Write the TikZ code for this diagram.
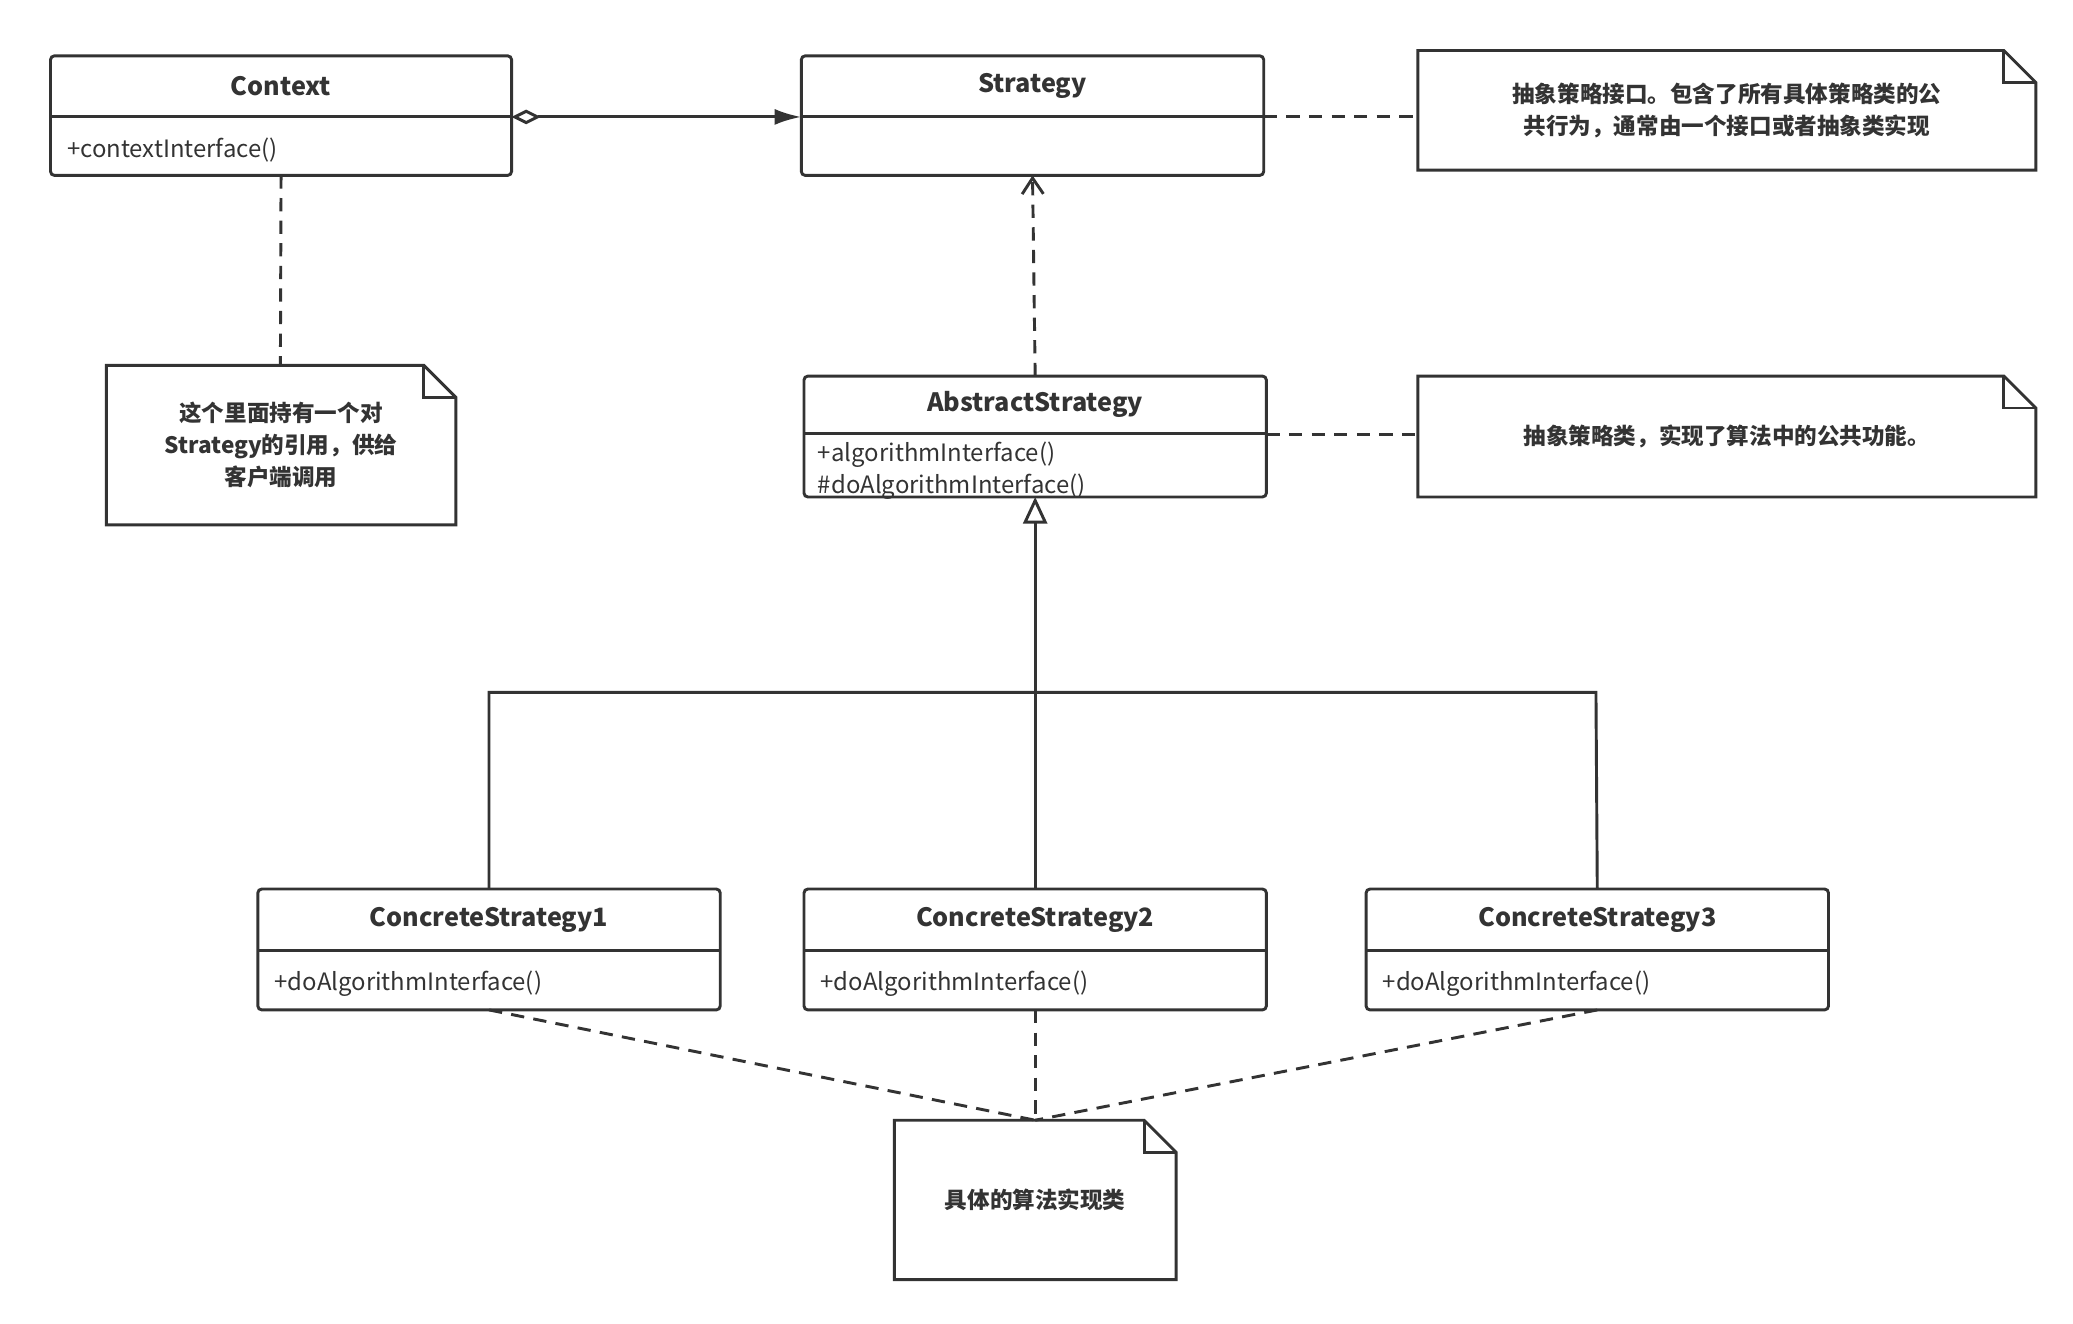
\documentclass[tikz,border=0pt]{standalone}
\usepackage{fontspec}
\setmainfont{Noto Sans CJK SC}
\usetikzlibrary{arrows.meta}
\definecolor{ink}{HTML}{333333}
\begin{document}
\begin{tikzpicture}[x=1pt,y=-1pt,
  ln/.style={draw=ink,line width=2.2pt},
  box/.style={ln,rounded corners=3pt},
  ttl/.style={font=\fontsize{19}{22}\selectfont\bfseries,text=ink},
  mem/.style={font=\fontsize{18}{22}\selectfont,text=ink,anchor=west},
  ntxt/.style={font=\fontsize{17}{24}\selectfont\bfseries,text=ink,align=center},
  dsh/.style={ln,dash pattern=on 10pt off 7pt}]
\useasboundingbox (0,0) rectangle (1560,996);
% class boxes
\newcommand{\umlclass}[7]{% name,x1,y1,x2,y2,ydiv,title
  \draw[box] (#2,#3) rectangle (#4,#5);
  \draw[ln] (#2,#6) -- (#4,#6);
  \node[ttl] (#1) at ({(#2+#4)/2},{(#3+#6)/2}) {#7};
  \coordinate (#1-n) at ({(#2+#4)/2},#3);
  \coordinate (#1-s) at ({(#2+#4)/2},#5);}
\umlclass{ctx}{38}{42}{385}{132}{88}{Context}
\node[mem] (ctxm) at (47,113) {+contextInterface()};
\umlclass{str}{603}{42}{951}{132}{88}{Strategy}
\umlclass{abs}{605}{283}{953}{374}{326}{AbstractStrategy}
\node[mem] (absm1) at (612,342) {+algorithmInterface()};
\node[mem] (absm2) at (612,366) {\#doAlgorithmInterface()};
\umlclass{c1}{194}{669}{542}{760}{715}{ConcreteStrategy1}
\umlclass{c2}{605}{669}{953}{760}{715}{ConcreteStrategy2}
\umlclass{c3}{1028}{669}{1376}{760}{715}{ConcreteStrategy3}
\node[mem] (c1m) at (203,740) {+doAlgorithmInterface()};
\node[mem] (c2m) at (614,740) {+doAlgorithmInterface()};
\node[mem] (c3m) at (1037,740) {+doAlgorithmInterface()};
% notes
\newcommand{\note}[6]{% name x1 y1 x2 y2 text
  \draw[ln] (#2,#3) -- ({#4-24},#3) -- (#4,{#3+24}) -- (#4,#5) -- (#2,#5) -- cycle;
  \draw[ln] ({#4-24},#3) -- ({#4-24},{#3+24}) -- (#4,{#3+24});
  \node[ntxt] (#1) at ({(#2+#4)/2},{(#3+#5)/2}) {#6};}
\note{n1}{1067}{38}{1532}{128}{抽象策略接口。包含了所有具体策略类的公\\共行为，通常由一个接口或者抽象类实现}
\note{n2}{1067}{283}{1532}{374}{抽象策略类，实现了算法中的公共功能。}
\note{n3}{80}{275}{343}{395}{这个里面持有一个对\\Strategy的引用，供给\\客户端调用}
\note{n4}{673}{843}{885}{963}{具体的算法实现类}
% connectors
\draw[ln,{Diamond[open,length=22pt,width=11pt]}-{Latex[length=20pt,width=12pt]}] (385,88) -- (603,88);
\draw[dsh] (951,88) -- (1067,88);
\draw[dsh] (953,327) -- (1067,327);
\draw[dsh] (ctx-s) -- (211,275);
\draw[dsh,-{Straight Barb[length=12pt,width=16pt]}] (abs-n) -- (str-s);
\draw[ln] (c1-n) -- (368,521) -- (1201,521) -- (c3-n);
\draw[ln,-{Triangle[open,length=20pt,width=18pt]}] (c2-n) -- (abs-s);
\coordinate (n4t) at (779,843);
\draw[dsh] (c1-s) -- (n4t);
\draw[dsh] (c2-s) -- (n4t);
\draw[dsh] (c3-s) -- (n4t);
\end{tikzpicture}
\end{document}
